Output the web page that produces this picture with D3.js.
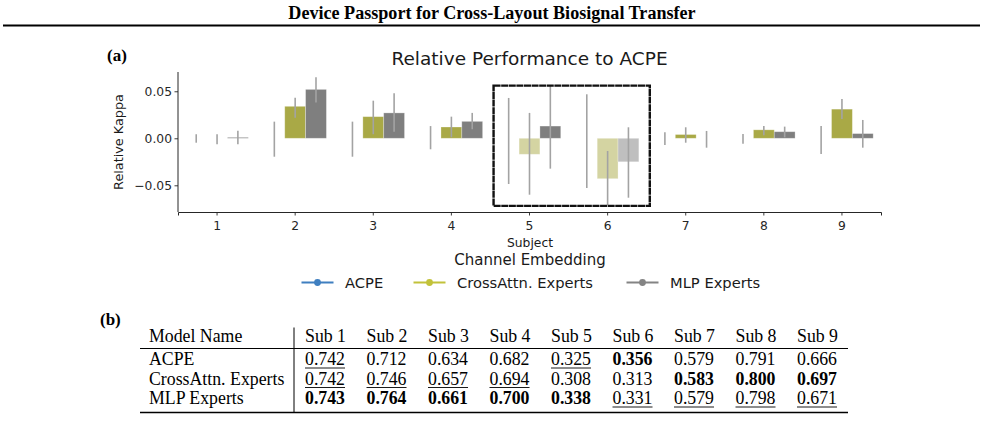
<!DOCTYPE html>
<html>
<head>
<meta charset="utf-8">
<script src="https://cdn.jsdelivr.net/npm/d3@7"></script>
<style>
  body { margin: 0; background: #fff; }
  svg { display: block; }
</style>
</head>
<body>
<svg id="viz" width="985" height="430"></svg>
<script>
// data
const subjects = [1, 2, 3, 4, 5, 6, 7, 8, 9];
const models = ["ACPE", "CrossAttn. Experts", "MLP Experts"];

// table (b): kappa per subject
const kappaACPE  = [0.742, 0.712, 0.634, 0.682, 0.325, 0.356, 0.579, 0.791, 0.666];
const kappaCross = [0.742, 0.746, 0.657, 0.694, 0.308, 0.313, 0.583, 0.800, 0.697];
const kappaMLP   = [0.743, 0.764, 0.661, 0.700, 0.338, 0.331, 0.579, 0.798, 0.671];

// error bar extents (relative kappa), [low, high]
const errACPE  = [[-0.0047, 0.0043], [-0.0196, 0.0177], [-0.0196, 0.0177], [-0.0117, 0.013], [-0.0486, 0.0429], [-0.0529, 0.0468], [-0.0071, 0.0064], [-0.0057, 0.0046], [-0.0167, 0.013]];
const errCross = [[-0.0064, 0.0043], [0.0219, 0.0432], [0.0043, 0.040], [0.001, 0.023], [-0.060, 0.027], [-0.071, -0.0135], [-0.0047, 0.0117], [0.0032, 0.013], [0.0205, 0.0418]];
const errMLP   = [[-0.0064, 0.008], [0.038, 0.065], [0.007, 0.048], [0.0096, 0.027], [-0.0323, 0.0567], [-0.0632, 0.0117], [-0.010, 0.0078], [0.001, 0.0124], [-0.010, 0.0195]];

const yTicks = [-0.05, 0, 0.05];
const highlightSubjects = [5, 6];
const highlightRange = [-0.0719, 0.056];

// which cells are bold / underlined in the table
const boldCells = {ACPE: [6], "CrossAttn. Experts": [7, 8, 9], "MLP Experts": [1, 2, 3, 4, 5]};
const underCells = {ACPE: [1, 5], "CrossAttn. Experts": [1, 2, 3, 4], "MLP Experts": [6, 7, 8, 9]};

const colors = {"ACPE": "#3b7cbd", "CrossAttn. Experts": "#a9a946", "MLP Experts": "#7f7f7f"};
const legendColors = {"ACPE": "#3f7fc0", "CrossAttn. Experts": "#c2c23a", "MLP Experts": "#848484"};

const svg = d3.select("#viz");
const sans = "DejaVu Sans, sans-serif";
const serif = "Liberation Serif, Times New Roman, serif";

// page header
svg.append("text")
    .attr("x", 492).attr("y", 19)
    .attr("text-anchor", "middle")
    .style("font-family", serif).style("font-weight", "bold").style("font-size", "18.1px")
    .text("Device Passport for Cross-Layout Biosignal Transfer");
svg.append("line")
    .attr("x1", 3).attr("x2", 980).attr("y1", 25.5).attr("y2", 25.5)
    .attr("stroke", "#000").attr("stroke-width", 2);

// ---------- (a) bar chart ----------
svg.append("text")
    .attr("x", 107).attr("y", 61)
    .style("font-family", serif).style("font-weight", "bold").style("font-size", "17px")
    .text("(a)");

const rows = [];
subjects.forEach((s, i) => {
    rows.push({subject: s, model: models[0], value: kappaACPE[i] - kappaACPE[i], err: errACPE[i]});
    rows.push({subject: s, model: models[1], value: +(kappaCross[i] - kappaACPE[i]).toFixed(3), err: errCross[i]});
    rows.push({subject: s, model: models[2], value: +(kappaMLP[i] - kappaACPE[i]).toFixed(3), err: errMLP[i]});
});

const x = d3.scaleBand().domain(subjects).range([178, 881]);
const xSub = d3.scaleBand().domain(models)
    .range([x.bandwidth() * 0.1, x.bandwidth() * 0.9]);
const y = d3.scaleLinear().domain([-0.0784, 0.0705]).range([212, 72]);

const g = svg.append("g");

// bars
g.selectAll(".bar")
    .data(rows)
    .enter()
    .append("rect")
    .attr("class", "bar")
    .attr("x", d => x(d.subject) + xSub(d.model))
    .attr("width", xSub.bandwidth())
    .attr("y", d => y(Math.max(0, d.value)))
    .attr("height", d => Math.abs(y(d.value) - y(0)))
    .attr("fill", d => colors[d.model])
    .attr("fill-opacity", d => d.value < 0 ? 0.5 : 1)
    .attr("stroke", "#ffffff").attr("stroke-opacity", 0.35).attr("stroke-width", 0.8);

// error bars
g.selectAll(".err")
    .data(rows)
    .enter()
    .append("line")
    .attr("class", "err")
    .attr("x1", d => x(d.subject) + xSub(d.model) + xSub.bandwidth() / 2)
    .attr("x2", d => x(d.subject) + xSub(d.model) + xSub.bandwidth() / 2)
    .attr("y1", d => y(d.err[0]))
    .attr("y2", d => y(d.err[1]))
    .attr("stroke", "#a3a3a3")
    .attr("stroke-width", 1.6);

// highlight box around subjects 5-6
const step = x.step();
g.append("rect")
    .attr("x", x(highlightSubjects[0]) + step * 0.04)
    .attr("y", y(highlightRange[1]))
    .attr("width", x(highlightSubjects[1]) + x.bandwidth() - x(highlightSubjects[0]))
    .attr("height", y(highlightRange[0]) - y(highlightRange[1]))
    .attr("fill", "none")
    .attr("stroke", "#111")
    .attr("stroke-width", 2.4)
    .attr("stroke-dasharray", "7,0.6");

// axes
const yAxis = d3.axisLeft(y).tickValues(yTicks).tickSizeOuter(0).tickSize(3.5)
    .tickFormat(d => d3.format(".2f")(d).replace("-", "\u2212"));
const xAxis = d3.axisBottom(x).tickSizeOuter(0).tickSize(3.5);

const ya = svg.append("g").attr("transform", "translate(178,0)").call(yAxis);
ya.select(".domain").attr("d", "M0," + y.range()[1] + "V" + y.range()[0]);
const xa = svg.append("g").attr("transform", "translate(0,212)").call(xAxis);
[ya, xa].forEach(a => {
    a.selectAll("text").style("font-family", sans).style("font-size", "12.3px").attr("fill", "#262626");
    a.select(".domain").attr("stroke", "#262626").attr("stroke-width", 1);
    a.selectAll(".tick line").attr("stroke", "#262626").attr("stroke-width", 0.9);
});
ya.selectAll("text").attr("x", -6);
xa.selectAll("text").attr("y", 9);

// titles
svg.append("text")
    .attr("x", (x.range()[0] + x.range()[1]) / 2).attr("y", 65)
    .attr("text-anchor", "middle")
    .style("font-family", sans).style("font-size", "18.5px").attr("fill", "#1a1a1a")
    .text("Relative Performance to ACPE");
svg.append("text")
    .attr("transform", "translate(122.5,142) rotate(-90)")
    .attr("text-anchor", "middle")
    .style("font-family", sans).style("font-size", "12.8px").attr("fill", "#1a1a1a")
    .text("Relative Kappa");
svg.append("text")
    .attr("x", 530).attr("y", 247)
    .attr("text-anchor", "middle")
    .style("font-family", sans).style("font-size", "12.3px").attr("fill", "#1a1a1a")
    .text("Subject");
svg.append("text")
    .attr("x", 530).attr("y", 265)
    .attr("text-anchor", "middle")
    .style("font-family", sans).style("font-size", "15px").attr("fill", "#1a1a1a")
    .text("Channel Embedding");

// legend
const legendX = [301.5, 413.5, 626.5];
const lg = svg.selectAll(".lg")
    .data(models)
    .enter()
    .append("g")
    .attr("class", "lg")
    .attr("transform", (d, i) => "translate(" + legendX[i] + ",282.5)");
lg.append("line")
    .attr("x1", 0).attr("x2", 32)
    .attr("stroke", d => legendColors[d]).attr("stroke-width", 2);
lg.append("circle")
    .attr("cx", 16).attr("r", 3.4)
    .attr("fill", d => legendColors[d]);
lg.append("text")
    .attr("x", 43.5).attr("y", 5.5)
    .style("font-family", sans).style("font-size", "14.7px").attr("fill", "#1a1a1a")
    .text(d => d);

// ---------- (b) table ----------
svg.append("text")
    .attr("x", 100).attr("y", 325)
    .style("font-family", serif).style("font-weight", "bold").style("font-size", "17px")
    .text("(b)");

const colX = d3.scalePoint().domain(subjects).range([305, 797]);
const rowY = {"head": 341.5, "ACPE": 365, "CrossAttn. Experts": 384.5, "MLP Experts": 404};
const tableFont = "17.8px";
const table = svg.append("g").style("font-family", serif).style("font-size", tableFont).attr("fill", "#000");

table.append("text").attr("x", 149).attr("y", rowY.head).text("Model Name");
table.selectAll(".hd")
    .data(subjects)
    .enter()
    .append("text")
    .attr("class", "hd")
    .attr("x", d => colX(d)).attr("y", rowY.head)
    .text(d => "Sub " + d);

const kappaBy = {"ACPE": kappaACPE, "CrossAttn. Experts": kappaCross, "MLP Experts": kappaMLP};
models.forEach(m => {
    table.append("text").attr("x", 149).attr("y", rowY[m]).text(m);
    const cells = subjects.map((s, i) => ({s: s, v: kappaBy[m][i]}));
    const t = table.selectAll(".c" + models.indexOf(m))
        .data(cells)
        .enter()
        .append("text")
        .attr("x", d => colX(d.s)).attr("y", rowY[m])
        .style("font-weight", d => boldCells[m].includes(d.s) ? "bold" : "normal")
        .text(d => d3.format(".3f")(d.v));
    t.filter(d => underCells[m].includes(d.s)).each(function(d) {
        const w = this.getComputedTextLength();
        table.append("line")
            .attr("x1", colX(d.s)).attr("x2", colX(d.s) + w)
            .attr("y1", rowY[m] + 3).attr("y2", rowY[m] + 3)
            .attr("stroke", "#000").attr("stroke-width", 0.9);
    });
});

// rules
table.append("line").attr("x1", 140).attr("x2", 848).attr("y1", 348.5).attr("y2", 348.5)
    .attr("stroke", "#000").attr("stroke-width", 1.2);
table.append("line").attr("x1", 140).attr("x2", 848).attr("y1", 412.5).attr("y2", 412.5)
    .attr("stroke", "#000").attr("stroke-width", 1.5);
table.append("line").attr("x1", 294).attr("x2", 294).attr("y1", 327.5).attr("y2", 412.5)
    .attr("stroke", "#000").attr("stroke-width", 1);
</script>
</body>
</html>
